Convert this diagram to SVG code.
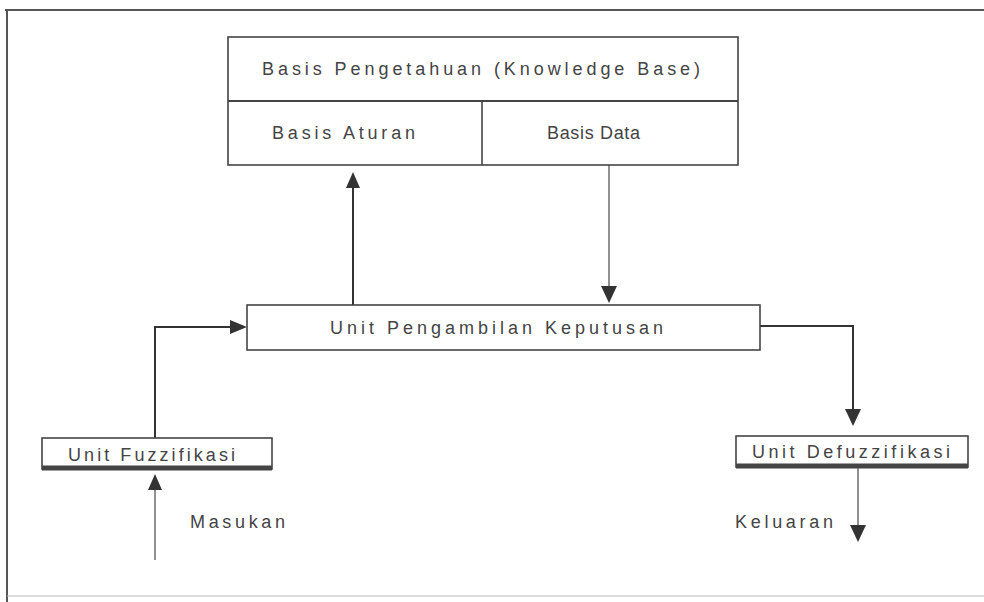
<svg xmlns="http://www.w3.org/2000/svg" width="984" height="602" viewBox="0 0 984 602">
<style>
.box{fill:#fff;stroke:#444;stroke-width:1.6}
.ln{fill:none;stroke:#333;stroke-width:2}
.thin{fill:none;stroke:#555;stroke-width:1.3}
.t{font-family:"Liberation Sans",Arial,sans-serif;font-size:18px;fill:#444}
.ah{fill:#333}
</style>
<rect width="984" height="602" fill="#fff"/>
<g id="frame">
<line x1="5" y1="10" x2="984" y2="10" stroke="#555" stroke-width="2"/>
<line x1="7" y1="10" x2="7" y2="602" stroke="#555" stroke-width="2"/>
<line x1="7" y1="596" x2="984" y2="596" stroke="#bbb" stroke-width="1"/>
</g>
<g id="connectors">
<line class="ln" x1="353" y1="185" x2="353" y2="305"/>
<polygon class="ah" points="353,172 346,188 360,188"/>
<line class="thin" x1="609" y1="165" x2="609" y2="288"/>
<polygon class="ah" points="609,303 601,286 617,286"/>
<polyline class="ln" points="155,440 155,327 230,327"/>
<polygon class="ah" points="247,327 230,320 230,334"/>
<polyline class="ln" points="760,326 853,326 853,410"/>
<polygon class="ah" points="853,426 845,409 861,409"/>
<line class="thin" x1="155" y1="488" x2="155" y2="560"/>
<polygon class="ah" points="155,474 148,490 162,490"/>
<line class="thin" x1="858" y1="467" x2="858" y2="528"/>
<polygon class="ah" points="858,542 850,525 866,525"/>
</g>
<g id="knowledge-base">
<rect class="box" x="228" y="37" width="510" height="128"/>
<line x1="228" y1="101" x2="738" y2="101" stroke="#444" stroke-width="2"/>
<line x1="482" y1="101" x2="482" y2="165" stroke="#444" stroke-width="1.6"/>
<text class="t" x="262" y="75" textLength="438" lengthAdjust="spacing">Basis Pengetahuan (Knowledge Base)</text>
</g>
<g id="basis-aturan">
<text class="t" x="272" y="139" textLength="143" lengthAdjust="spacing">Basis Aturan</text>
</g>
<g id="basis-data">
<text class="t" x="547" y="139" textLength="93" lengthAdjust="spacing">Basis Data</text>
</g>
<g id="unit-pengambilan">
<rect class="box" x="247" y="305" width="513" height="45"/>
<text class="t" x="330" y="334" textLength="333" lengthAdjust="spacing">Unit Pengambilan Keputusan</text>
</g>
<g id="unit-fuzzifikasi">
<rect class="box" x="42" y="438" width="230" height="31"/>
<line x1="42" y1="468" x2="272" y2="468" stroke="#444" stroke-width="5"/>
<text class="t" x="68" y="461" textLength="167" lengthAdjust="spacing">Unit Fuzzifikasi</text>
</g>
<g id="unit-defuzzifikasi">
<rect class="box" x="736" y="436" width="232" height="31"/>
<line x1="736" y1="466" x2="968" y2="466" stroke="#444" stroke-width="5"/>
<text class="t" x="752" y="458" textLength="198" lengthAdjust="spacing">Unit Defuzzifikasi</text>
</g>
<g id="labels">
<text class="t" x="190" y="528" textLength="95" lengthAdjust="spacing">Masukan</text>
<text class="t" x="735" y="528" textLength="98" lengthAdjust="spacing">Keluaran</text>
</g>
</svg>
